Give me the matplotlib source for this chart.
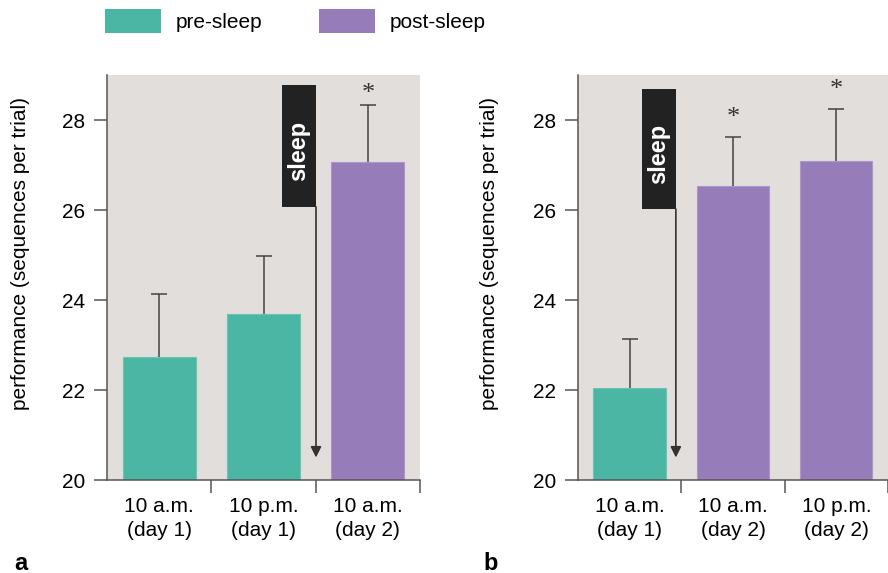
import matplotlib.pyplot as plt
from matplotlib.patches import Rectangle, Patch

plt.rcParams['font.family'] = ['Liberation Sans', 'DejaVu Sans']
font_size = 15

teal = '#4ab6a3'
purple = '#977cba'
bg = '#e2dedb'
axis_col = '#555555'

# panel a
labels_a = ['10 a.m.\n(day 1)', '10 p.m.\n(day 1)', '10 a.m.\n(day 2)']
means_a = [22.73, 23.68, 27.06]
sem_a = [1.40, 1.30, 1.28]
phase_a = ['pre', 'pre', 'post']
stars_a = [False, False, True]

# panel b
labels_b = ['10 a.m.\n(day 1)', '10 a.m.\n(day 2)', '10 p.m.\n(day 2)']
means_b = [22.04, 26.53, 27.09]
sem_b = [1.09, 1.10, 1.16]
phase_b = ['pre', 'post', 'post']
stars_b = [False, True, True]

colors = {'pre': teal, 'post': purple}
edges = {'pre': '#6cc4b4', 'post': '#ab97cb'}

fig = plt.figure(figsize=(8.88, 5.73), dpi=100)
ax_a = fig.add_axes([0.1205, 0.1623, 0.3525, 0.7068])
ax_b = fig.add_axes([0.6509, 0.1623, 0.3491, 0.7068])


def draw_panel(ax, labels, means, sem, phase, stars, sleep_x, box_x0, box_top, box_bottom,
               letter, label_x, star_off):
    x = list(range(len(labels)))
    tops = [m + s for m, s in zip(means, sem)]
    ax.set_facecolor(bg)
    ax.bar(x, means, 0.7, color=[colors[p] for p in phase],
           edgecolor=[edges[p] for p in phase], linewidth=0.8, zorder=2)
    # upper error bars only, cap at the top end
    ax.errorbar(x, means, yerr=[[0] * len(sem), sem], fmt='none', ecolor='#444444',
                elinewidth=1.1, capsize=0, zorder=3)
    ax.plot(x, tops, linestyle='none', marker='_', markersize=11, mew=1.1,
            color='#444444', zorder=3)
    for xi, t, st in zip(x, tops, stars):
        if st:
            ax.annotate('*', (xi, t), xytext=(0, star_off), textcoords='offset points',
                        ha='center', va='bottom', fontsize=19, color='#333333',
                        family='Liberation Serif')

    # sleep box + arrow
    ax.add_patch(Rectangle((box_x0, box_bottom), sleep_x - box_x0, box_top - box_bottom,
                           facecolor='#222222', edgecolor='none', zorder=4))
    ax.text((box_x0 + sleep_x) / 2, (box_top + box_bottom) / 2 - 0.12, 'sleep', rotation=90,
            ha='center', va='center', color='white', fontsize=17, fontweight='bold', zorder=5)
    ax.annotate('', xy=(sleep_x, 20.5), xytext=(sleep_x, box_bottom),
                arrowprops=dict(arrowstyle='-|>', color='#333333', lw=1.2,
                                mutation_scale=16, shrinkA=0, shrinkB=0), zorder=4)

    ax.set_xlim(-0.5, 2.5)
    ax.set_ylim(20, 29)
    ax.set_yticks([20, 22, 24, 26, 28])
    ax.tick_params(axis='y', labelsize=font_size, length=9.5, width=1.1, color=axis_col, pad=6)
    ax.set_xticks([0.5, 1.5, 2.5])
    ax.set_xticklabels([])
    ax.tick_params(axis='x', which='major', length=9.5, width=1.1, color=axis_col)
    ax.set_xticks(x, minor=True)
    ax.set_xticklabels(labels, minor=True, fontsize=font_size, linespacing=1.35)
    ax.tick_params(axis='x', which='minor', length=0, pad=12)

    for side in ['top', 'right']:
        ax.spines[side].set_visible(False)
    for side in ['left', 'bottom']:
        ax.spines[side].set_color(axis_col)
        ax.spines[side].set_linewidth(1.1)

    ax.set_ylabel('performance (sequences per trial)', fontsize=font_size)
    ax.yaxis.set_label_coords(label_x, 0.56)
    ax.text(letter[1], -0.205, letter[0], transform=ax.transAxes, fontsize=17,
            fontweight='bold', ha='left', va='center')


draw_panel(ax_a, labels_a, means_a, sem_a, phase_a, stars_a,
           1.503, 1.177, 28.78, 26.07, ('a', -0.295), -0.245, -0.5)
draw_panel(ax_b, labels_b, means_b, sem_b, phase_b, stars_b,
           0.447, 0.118, 28.69, 26.02, ('b', -0.305), -0.255, 5.5)

handles = [Patch(facecolor=teal, label='pre-sleep'), Patch(facecolor=purple, label='post-sleep')]
fig.legend(handles=handles, loc='center left', bbox_to_anchor=(105 / 888, 1 - 21 / 573),
           ncol=2, frameon=False, fontsize=font_size, handlelength=2.7, handleheight=1.35,
           handletextpad=0.67, columnspacing=2.75, borderpad=0, borderaxespad=0)

fig.savefig('out.png', dpi=100)
